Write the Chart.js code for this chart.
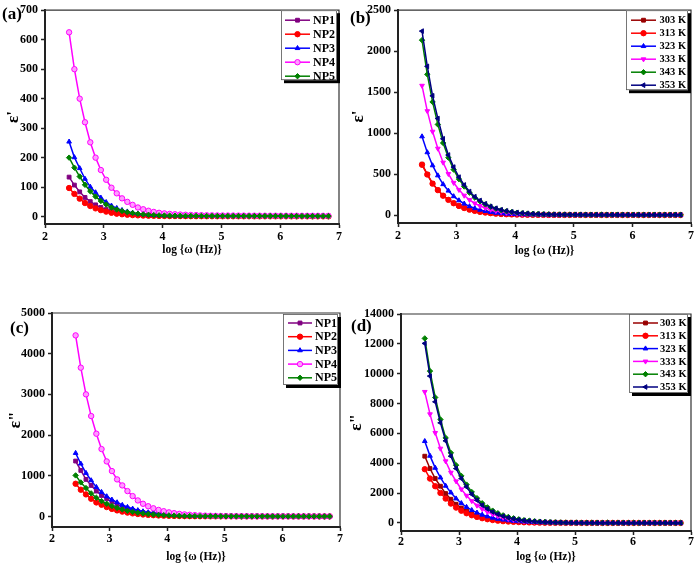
<!DOCTYPE html>
<html>
<head>
<meta charset="utf-8">
<script src="https://cdn.jsdelivr.net/npm/chart.js@4.4.0/dist/chart.umd.min.js"></script>
<style>
  html, body { margin: 0; padding: 0; background: #fff; }
  #fig { position: relative; width: 696px; height: 565px; overflow: hidden; }
  #fig canvas { position: absolute; }
</style>
</head>
<body>
<div id="fig">
  <canvas id="pa" width="348" height="290" style="left:0;top:0"></canvas>
  <canvas id="pb" width="348" height="290" style="left:348px;top:0"></canvas>
  <canvas id="pc" width="348" height="275" style="left:0;top:290px"></canvas>
  <canvas id="pd" width="348" height="275" style="left:348px;top:290px"></canvas>
</div>
<script>
// log(ω) del mesurament
const logW = [2.41, 2.50, 2.59, 2.68, 2.77, 2.86, 2.95, 3.04, 3.13, 3.22,
              3.31, 3.40, 3.49, 3.58, 3.67, 3.76, 3.85, 3.94, 4.03, 4.12,
              4.21, 4.30, 4.39, 4.48, 4.57, 4.66, 4.75, 4.84, 4.93, 5.02,
              5.11, 5.20, 5.29, 5.38, 5.47, 5.56, 5.65, 5.74, 5.83, 5.92,
              6.01, 6.10, 6.19, 6.28, 6.37, 6.46, 6.55, 6.64, 6.73, 6.82];

const labelsNP = ['NP1', 'NP2', 'NP3', 'NP4', 'NP5'];
const labelsT  = ['303 K', '313 K', '323 K', '333 K', '343 K', '353 K'];

// marques de l'eix y
const ticksA = [0, 100, 200, 300, 400, 500, 600, 700];
const ticksB = [0, 500, 1000, 1500, 2000, 2500];
const ticksC = [0, 1000, 2000, 3000, 4000, 5000];
const ticksD = [0, 2000, 4000, 6000, 8000, 10000, 12000, 14000];

// (a) ε' per mostra
const reNP1 = [134,107,84,65,51,40,31,24,19,15, 12,9.5,7.6,6.2,5.1,4.3,3.7,3.3,3.0,2.8, 2.6,2.5,2.4,2.3,2.2,2.1,2.0,2.0,1.9,1.9, 1.8,1.8,1.8,1.7,1.7,1.7,1.6,1.6,1.6,1.6, 1.5,1.5,1.5,1.5,1.5,1.4,1.4,1.4,1.4,1.4];
const reNP2 = [97,77,61,46,36,28,22,17,13,10, 8,6.4,5.2,4.3,3.6,3.1,2.7,2.4,2.2,2.0, 1.9,1.8,1.7,1.6,1.5,1.5,1.4,1.4,1.3,1.3, 1.3,1.2,1.2,1.2,1.2,1.1,1.1,1.1,1.1,1.1, 1.0,1.0,1.0,1.0,1.0,1.0,1.0,0.9,0.9,0.9];
const reNP3 = [254,201,164,128,101,82,64,49,37,29, 22,17,13,10,8,6.5,5.4,4.6,4.0,3.6, 3.3,3.1,2.9,2.8,2.7,2.6,2.5,2.5,2.4,2.4, 2.3,2.3,2.3,2.2,2.2,2.2,2.2,2.1,2.1,2.1, 2.1,2.0,2.0,2.0,2.0,2.0,2.0,1.9,1.9,1.9];
const reNP4 = [625,500,400,320,252,200,158,125,98,79, 62,50,40,31,25,20,16,13,11,9.3, 8,7,6.3,5.7,5.2,4.8,4.5,4.2,4.0,3.8, 3.7,3.6,3.5,3.4,3.3,3.2,3.2,3.1,3.1,3.0, 3.0,2.9,2.9,2.9,2.8,2.8,2.8,2.8,2.7,2.7];
const reNP5 = [200,166,136,108,86,68,53,41,31,24, 19,15,12,9.5,7.6,6.2,5.2,4.4,3.8,3.4, 3.1,2.9,2.7,2.6,2.5,2.4,2.3,2.3,2.2,2.2, 2.1,2.1,2.1,2.0,2.0,2.0,2.0,1.9,1.9,1.9, 1.9,1.9,1.8,1.8,1.8,1.8,1.8,1.8,1.7,1.7];

// (b) ε' per temperatura
const re303 = [622,498,388,308,240,189,147,114,89,69, 54,42,33,25,20,15,12,9.8,8.0,6.8, 5.9,5.2,4.7,4.3,4.0,3.8,3.6,3.5,3.4,3.3, 3.2,3.1,3.1,3.0,3.0,2.9,2.9,2.9,2.8,2.8, 2.8,2.8,2.7,2.7,2.7,2.7,2.7,2.6,2.6,2.6];
const re313 = [615,496,385,306,238,187,146,113,88,68, 53,41,32,25,19,15,12,9.6,7.9,6.7, 5.8,5.2,4.7,4.3,4.0,3.8,3.6,3.5,3.4,3.3, 3.2,3.1,3.1,3.0,3.0,2.9,2.9,2.9,2.8,2.8, 2.8,2.8,2.7,2.7,2.7,2.7,2.7,2.6,2.6,2.6];
const re323 = [960,766,607,484,377,298,230,180,140,108, 84,65,50,38,29,22,17,13.5,11,9.2, 7.9,6.9,6.2,5.7,5.3,5.0,4.7,4.5,4.3,4.2, 4.1,4.0,3.9,3.8,3.7,3.7,3.6,3.6,3.5,3.5, 3.5,3.4,3.4,3.4,3.3,3.3,3.3,3.3,3.2,3.2];
const re333 = [1580,1270,1020,813,643,504,396,310,240,187, 145,113,88,68,53,41,32,25,20,16, 13,11,9.5,8.3,7.4,6.7,6.2,5.8,5.5,5.2, 5.0,4.8,4.7,4.6,4.5,4.4,4.3,4.2,4.2,4.1, 4.1,4.0,4.0,4.0,3.9,3.9,3.9,3.8,3.8,3.8];
const re343 = [2135,1718,1381,1107,881,702,556,440,350,275, 215,170,132,103,80,62,49,39,31,25, 20,17,14,12,10.5,9.3,8.4,7.8,7.3,6.9, 6.6,6.3,6.1,5.9,5.8,5.7,5.6,5.5,5.4,5.3, 5.3,5.2,5.2,5.1,5.1,5.0,5.0,5.0,4.9,4.9];
const re353 = [2245,1815,1456,1179,932,734,587,464,369,289, 226,179,139,107,85,66,52,41,33,27, 22,18,15,13,11,10,9,8.5,8,7.6, 7.3,7,6.8,6.6,6.4,6.3,6.2,6.1,6,5.9, 5.8,5.7,5.7,5.6,5.6,5.5,5.5,5.5,5.4,5.4];

// (c) ε'' per mostra
const imNP1 = [1361,1131,910,762,623,516,434,356,290,236, 190,152,122,98,78,62,49,39,31,25, 20,16,13,10,8.2,6.7,5.5,4.6,3.9,3.3, 2.9,2.5,2.2,2.0,1.8,1.6,1.5,1.4,1.3,1.2, 1.1,1.0,1.0,0.9,0.9,0.8,0.8,0.8,0.7,0.7];
const imNP2 = [803,656,541,434,344,287,230,185,148,118, 94,75,60,48,38,30,24,19,15,12, 9.6,7.7,6.2,5,4.1,3.4,2.8,2.4,2.0,1.7, 1.5,1.3,1.2,1.1,1.0,0.9,0.9,0.8,0.8,0.7, 0.7,0.7,0.6,0.6,0.6,0.6,0.6,0.5,0.5,0.5];
const imNP3 = [1557,1295,1066,885,721,598,492,410,344,280, 230,188,150,122,98,80,64,52,42,34, 27,22,18,14,11,9,7.5,6.2,5.2,4.4, 3.7,3.2,2.8,2.4,2.1,1.9,1.7,1.5,1.4,1.3, 1.2,1.1,1.0,1.0,0.9,0.9,0.8,0.8,0.8,0.7];
const imNP4 = [4450,3656,3000,2467,2033,1656,1352,1115,910,762, 623,500,393,311,250,200,160,128,100,80, 63,50,40,32,25,20,16,13,11,9, 7.5,6.3,5.4,4.7,4.1,3.6,3.2,2.9,2.6,2.4, 2.2,2.0,1.9,1.8,1.7,1.6,1.5,1.4,1.3,1.2];
const imNP5 = [1008,836,697,566,459,377,311,255,208,170, 138,112,90,73,59,48,38,31,25,20, 16,13,10.5,8.5,7,5.8,4.8,4,3.4,2.9, 2.5,2.2,1.9,1.7,1.5,1.4,1.3,1.2,1.1,1.0, 1.0,0.9,0.9,0.8,0.8,0.8,0.7,0.7,0.7,0.7];

// (d) ε'' per temperatura
const im303 = [4472,3645,2974,2460,1968,1588,1252,1000,800,635, 505,400,315,248,195,153,120,94,73,57, 45,35,27,21,17,13,10.5,8.5,7,5.8, 4.9,4.2,3.7,3.3,3,2.7,2.5,2.3,2.2,2.1, 2,1.9,1.8,1.8,1.7,1.7,1.6,1.6,1.6,1.5];
const im313 = [3600,2974,2460,2012,1632,1297,1029,820,650,515, 405,318,250,196,153,120,94,73,57,44, 35,27,21,16.5,13,10.3,8.2,6.7,5.5,4.6, 3.9,3.4,3,2.7,2.4,2.2,2,1.9,1.8,1.7, 1.6,1.5,1.5,1.4,1.4,1.3,1.3,1.3,1.2,1.2];
const im323 = [5478,4494,3689,3041,2482,2035,1632,1320,1065,855, 685,545,432,342,270,213,168,132,104,82, 64,50,39,31,24,19,15,12,10,8.3, 7,6,5.2,4.6,4.1,3.7,3.4,3.1,2.9,2.7, 2.5,2.4,2.3,2.2,2.1,2.0,2.0,1.9,1.9,1.8];
const im333 = [8787,7289,6037,4986,4137,3376,2795,2258,1830,1470, 1170,930,740,585,460,360,282,220,172,134, 104,81,63,49,38,30,24,19,15,12, 10,8.3,7,6,5.2,4.6,4.1,3.7,3.4,3.1, 2.9,2.7,2.6,2.5,2.4,2.3,2.2,2.2,2.1,2.1];
const im343 = [12365,10174,8407,6932,5702,4696,3868,3153,2570,2070, 1660,1320,1045,825,650,510,400,312,243,189, 147,114,88,68,53,41,32,25,20,16, 13,10.5,8.8,7.5,6.4,5.6,5.0,4.5,4.1,3.8, 3.5,3.3,3.1,3.0,2.9,2.8,2.7,2.6,2.6,2.5];
const im353 = [12030,9840,8117,6708,5500,4472,3645,2974,2415,1923, 1520,1185,939,740,580,455,355,278,216,168, 130,100,78,60,47,37,30,24,19,15, 12,10,8.5,7.2,6.2,5.4,4.8,4.3,3.9,3.6, 3.3,3.1,2.9,2.8,2.7,2.6,2.5,2.4,2.4,2.3];

// estils (colors i marcadors)
const colorsNP = ['#800080', '#ff0000', '#0000ff', '#ff00ff', '#008000'];
const fillsNP  = ['#800080', '#ff0000', '#0000ff', '#ff9cff', '#008000'];
const marcsNP  = [['rect', 0], ['circle', 0], ['triangle', 0], ['circle', 0], ['rectRot', 0]];
const colorsT  = ['#990000', '#ff0000', '#0000ff', '#ff00ff', '#008000', '#000080'];
const marcsT   = [['rect', 0], ['circle', 0], ['triangle', 0], ['triangle', 180], ['rectRot', 0], ['triangle', 270]];

const SERIF = "'Liberation Serif', 'Times New Roman', serif";
const RADI = 2.7;

const pluginMarc = {
  id: 'marc',
  beforeDatasetsDraw(chart) {
    const { ctx, chartArea: a } = chart;
    ctx.save();
    ctx.strokeStyle = '#333';
    ctx.lineWidth = 1.2;
    ctx.beginPath();
    ctx.moveTo(a.left, a.top);
    ctx.lineTo(a.right, a.top);
    ctx.lineTo(a.right, a.bottom);
    ctx.stroke();
    ctx.restore();
  },
  afterDraw(chart, args, o) {
    const { ctx, chartArea: a } = chart;
    const L = o.llegenda;
    const x0 = a.right - L.dx - L.w;
    const y0 = a.top + L.dy;
    ctx.save();
    // caixa amb ombra negra
    ctx.fillStyle = '#000';
    ctx.fillRect(x0 + 3, y0 + 3, L.w, L.h);
    ctx.fillStyle = '#fff';
    ctx.fillRect(x0, y0, L.w, L.h);
    ctx.strokeStyle = '#555';
    ctx.lineWidth = 0.8;
    ctx.strokeRect(x0 + 0.5, y0 + 0.5, L.w - 1, L.h - 1);

    chart.data.datasets.forEach((ds, i) => {
      const y = y0 + L.first + i * L.row;
      const lx0 = x0 + L.lx, lx1 = lx0 + L.len;
      ctx.strokeStyle = ds.borderColor;
      ctx.lineWidth = 1.5;
      ctx.beginPath();
      ctx.moveTo(lx0, y);
      ctx.lineTo(lx1, y);
      ctx.stroke();
      ctx.fillStyle = ds.pointBackgroundColor;
      ctx.lineWidth = 1;
      Chart.helpers.drawPoint(ctx, {
        pointStyle: ds.pointStyle, rotation: ds.pointRotation, radius: RADI, borderWidth: 1
      }, (lx0 + lx1) / 2, y);
      ctx.fillStyle = '#000';
      ctx.font = `bold ${L.font}px ${SERIF}`;
      ctx.textAlign = 'left';
      ctx.textBaseline = 'middle';
      ctx.fillText(ds.label, lx1 + L.gap, y + 0.5);
    });

    // etiqueta del panell
    ctx.fillStyle = '#000';
    ctx.font = `bold 17px ${SERIF}`;
    ctx.textAlign = 'left';
    ctx.textBaseline = 'middle';
    ctx.fillText(o.tag, o.tagX, o.tagY);
    ctx.restore();
  }
};

function crearPanell(id, cfg) {
  const n = cfg.series.length;
  const datasets = cfg.series.map((s, i) => ({
    label: cfg.labels[i],
    data: logW.map((x, j) => ({ x: x, y: s[j] })),
    borderColor: cfg.colors[i],
    backgroundColor: cfg.colors[i],
    pointBackgroundColor: cfg.fills[i],
    pointBorderColor: cfg.colors[i],
    pointStyle: cfg.marcs[i][0],
    pointRotation: cfg.marcs[i][1],
    pointRadius: RADI,
    pointBorderWidth: 1,
    borderWidth: 1.5,
    tension: 0,
    order: n - i,   // l'última sèrie queda a sobre
  }));

  const fontTick = { family: SERIF, weight: 'bold', size: 12 };

  new Chart(document.getElementById(id), {
    type: 'line',
    data: { datasets },
    options: {
      responsive: false,
      animation: false,
      events: [],
      layout: { padding: { left: 0, right: cfg.padR, top: cfg.padT, bottom: 0 } },
      plugins: {
        legend: { display: false },
        tooltip: { enabled: false },
        marc: { llegenda: cfg.llegenda, tag: cfg.tag, tagX: cfg.tagX, tagY: cfg.tagY },
      },
      scales: {
        x: {
          type: 'linear',
          min: 2,
          max: 7,
          ticks: { stepSize: 1, color: '#000', font: fontTick, padding: cfg.xPad, autoSkip: false, maxRotation: 0 },
          grid: { drawOnChartArea: false, drawTicks: true, tickLength: 4, tickWidth: 1.5, color: '#222' },
          border: { color: '#222', width: 2 },
          title: {
            display: true,
            text: 'log {ω (Hz)}',
            color: '#000',
            font: { family: SERIF, weight: 'bold', size: 11.5 },
            padding: { top: 0, bottom: cfg.xTitlePad },
          },
          afterFit: s => { s.height = cfg.xH; },
        },
        y: {
          min: cfg.yMin,
          max: cfg.yMax,
          ticks: { color: '#000', font: fontTick, padding: 3, autoSkip: false,
                   callback: v => String(v) },
          afterBuildTicks: s => { s.ticks = cfg.yTicks.map(v => ({ value: v })); },
          grid: { drawOnChartArea: false, drawTicks: true, tickLength: 4, tickWidth: 1.5, color: '#222' },
          border: { color: '#222', width: 2 },
          title: {
            display: true,
            text: cfg.yTitle,
            color: '#000',
            font: { family: SERIF, weight: 'bold', size: 17 },
            padding: { top: cfg.yTitlePad, bottom: 0 },
          },
          afterFit: s => { s.width = cfg.yW; },
        },
      },
    },
    plugins: [pluginMarc],
  });
}

crearPanell('pa', {
  series: [reNP1, reNP2, reNP3, reNP4, reNP5], labels: labelsNP,
  colors: colorsNP, fills: fillsNP, marcs: marcsNP,
  yMin: -25, yMax: 700, yTicks: ticksA, yTitle: "ε'",
  padR: 9, padT: 5, yW: 45, xH: 66, xPad: 2, xTitlePad: 33, yTitlePad: 3,
  llegenda: { w: 56, h: 70, dx: 2, dy: 0, first: 10, row: 14, lx: 4, len: 25, gap: 3, font: 12 },
  tag: '(a)', tagX: 2, tagY: 15,
});

crearPanell('pb', {
  series: [re303, re313, re323, re333, re343, re353], labels: labelsT,
  colors: colorsT, fills: colorsT, marcs: marcsT,
  yMin: -95, yMax: 2500, yTicks: ticksB, yTitle: "ε'",
  padR: 5, padT: 5, yW: 50, xH: 67, xPad: 2, xTitlePad: 32, yTitlePad: 0,
  llegenda: { w: 62, h: 80, dx: 3, dy: 0, first: 10, row: 13, lx: 5, len: 25, gap: 3.5, font: 10.5 },
  tag: '(b)', tagX: 2, tagY: 19,
});

crearPanell('pc', {
  series: [imNP1, imNP2, imNP3, imNP4, imNP5], labels: labelsNP,
  colors: colorsNP, fills: fillsNP, marcs: marcsNP,
  yMin: -260, yMax: 5000, yTicks: ticksC, yTitle: 'ε"',
  padR: 8, padT: 23, yW: 52, xH: 38, xPad: 1, xTitlePad: 1, yTitlePad: 5,
  llegenda: { w: 55, h: 71, dx: 2, dy: 1, first: 9, row: 13.7, lx: 5, len: 24, gap: 3, font: 12 },
  tag: '(c)', tagX: 10, tagY: 39,
});

crearPanell('pd', {
  series: [im303, im313, im323, im333, im343, im353], labels: labelsT,
  colors: colorsT, fills: colorsT, marcs: marcsT,
  yMin: -540, yMax: 14000, yTicks: ticksD, yTitle: 'ε"',
  padR: 3, padT: 24, yW: 53, xH: 34, xPad: 0, xTitlePad: 1, yTitlePad: -2,
  llegenda: { w: 59, h: 79, dx: 3, dy: 0, first: 9, row: 12.8, lx: 4, len: 25, gap: 2, font: 10.5 },
  tag: '(d)', tagX: 3, tagY: 36.5,
});
</script>
</body>
</html>
